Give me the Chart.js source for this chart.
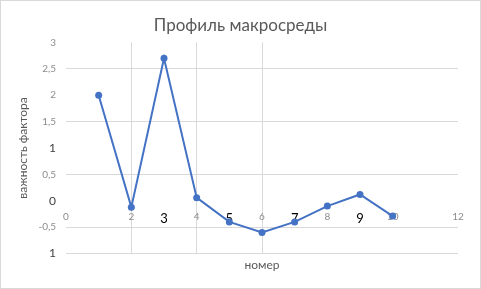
<!DOCTYPE html>
<html>
<head>
<meta charset="utf-8">
<script src="https://cdn.jsdelivr.net/npm/chart.js@4"></script>
<style>
  html, body { margin: 0; padding: 0; background: #fff; }
  canvas { display: block; }
</style>
</head>
<body>
<canvas id="chart" width="481" height="289"></canvas>
<script>
// ---- DATA ----
const chartTitle = "Профиль макросреды";
const xTitle = "номер";
const yTitle = "важность фактора";
const factorNo = [1, 2, 3, 4, 5, 6, 7, 8, 9, 10];
const importance = [2.0, -0.12, 2.7, 0.06, -0.4, -0.6, -0.4, -0.1, 0.12, -0.29];
const xGridAt = [2, 4, 6];
const yGridAt = [2.5, 1.5, 0.5, -0.5, -1];
const darkXTicks = [3, 5, 7, 9];
const hiddenXTicks = [1, 11];
const darkYTicks = [1, 0, -1];

const FONT = "Lato, 'Open Sans', sans-serif";
const GRID = "#d9d9d9";
const BLUE = "#4472c4";

const points = factorNo.map((x, i) => ({ x, y: importance[i] }));

// white background + thin outer frame
const framePlugin = {
  id: "frame",
  beforeDraw(chart){
    const c = chart.ctx;
    c.save();
    c.fillStyle = "#fff";
    c.fillRect(0, 0, chart.width, chart.height);
    c.strokeStyle = GRID;
    c.lineWidth = 1;
    c.strokeRect(0.5, 0.5, chart.width - 1, chart.height - 1);
    c.restore();
  }
};

new Chart(document.getElementById("chart"), {
  type: "line",
  data: {
    datasets: [{
      data: points,
      borderColor: BLUE,
      backgroundColor: BLUE,
      borderWidth: 2,
      pointRadius: 3.5,
      pointBorderWidth: 0,
      tension: 0
    }]
  },
  options: {
    responsive: false,
    animation: false,
    layout: { padding: 0 },
    plugins: {
      legend: { display: false },
      tooltip: { enabled: false },
      title: {
        display: true,
        text: chartTitle,
        color: "#595959",
        font: { family: FONT, size: 17, weight: "normal" },
        padding: { top: 15, bottom: 7 }
      }
    },
    scales: {
      x: {
        type: "linear",
        position: { y: 0 },
        min: 0, max: 12,
        border: { display: false },
        grid: {
          drawTicks: false,
          color: ctx => xGridAt.includes(ctx.tick && ctx.tick.value) ? GRID : "rgba(0,0,0,0)"
        },
        ticks: {
          stepSize: 1,
          padding: 10,
          maxRotation: 0,
          autoSkip: false,
          callback: v => hiddenXTicks.includes(v) ? "" : String(v),
          color: ctx => darkXTicks.includes(ctx.tick.value) ? "#000" : "#8c8c8c",
          font: ctx => darkXTicks.includes(ctx.tick && ctx.tick.value)
            ? { family: FONT, size: 13 }
            : { family: FONT, size: 10 }
        }
      },
      x2: {
        type: "linear",
        position: "bottom",
        min: 0, max: 12,
        border: { display: false },
        grid: { display: false, drawTicks: false },
        ticks: { display: false },
        title: {
          display: true,
          text: xTitle,
          color: "#595959",
          font: { family: FONT, size: 12 },
          padding: { top: 4, bottom: 17 }
        }
      },
      y: {
        min: -1, max: 3,
        border: { display: false },
        grid: {
          drawTicks: false,
          color: ctx => yGridAt.includes(ctx.tick && ctx.tick.value) ? GRID : "rgba(0,0,0,0)"
        },
        ticks: {
          stepSize: 0.5,
          padding: 10,
          callback: v => v === -1 ? "1" : String(v).replace(".", ","),
          color: ctx => darkYTicks.includes(ctx.tick.value) ? "#404040" : "#8c8c8c",
          font: ctx => darkYTicks.includes(ctx.tick && ctx.tick.value)
            ? { family: FONT, size: 12 }
            : { family: FONT, size: 10 }
        },
        title: {
          display: true,
          text: yTitle,
          color: "#595959",
          font: { family: FONT, size: 12 },
          padding: { top: 16, bottom: 4 }
        },
        afterFit: scale => { scale.width = 66; }
      },
      // empty right-hand axis, only reserves the right margin
      yRight: {
        position: "right",
        min: -1, max: 3,
        border: { display: false },
        grid: { display: false, drawTicks: false },
        ticks: { display: false },
        afterFit: scale => { scale.width = 23; }
      }
    }
  },
  plugins: [framePlugin]
});
</script>
</body>
</html>
